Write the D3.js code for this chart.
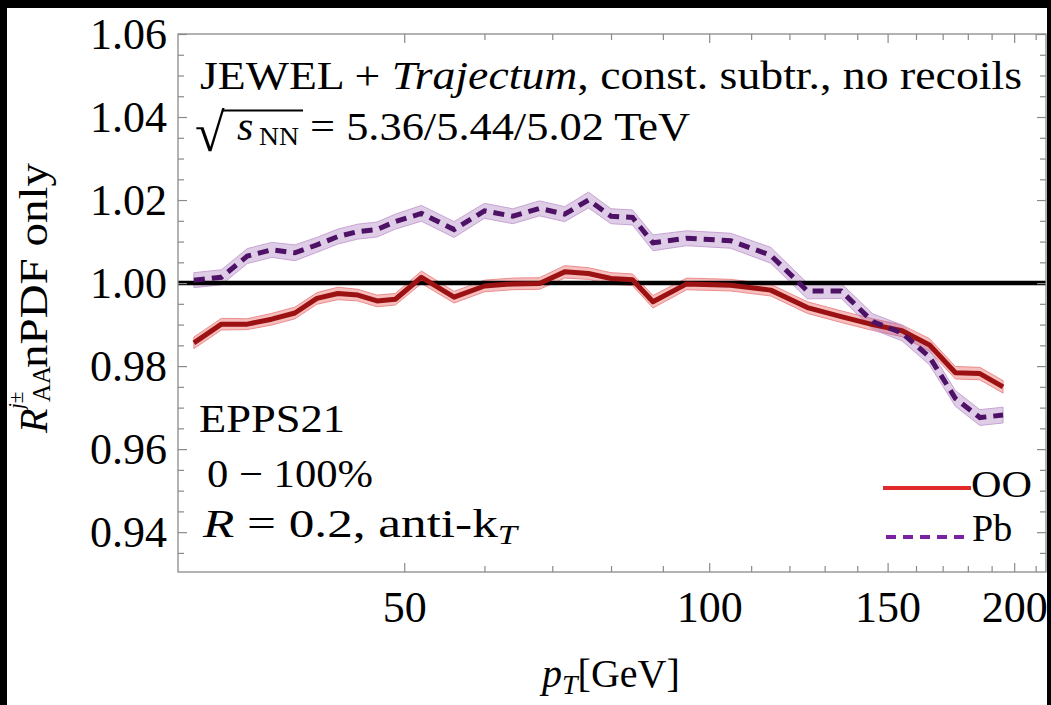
<!DOCTYPE html>
<html>
<head>
<meta charset="utf-8">
<script src="https://cdn.jsdelivr.net/npm/d3@7"></script>
<style>
  body { margin: 0; background: #000; }
  svg { display: block; }
  .tick text { font-family: "Liberation Serif", "Times New Roman", serif; font-size: 44px; fill: #000; }
  .tick line { stroke: #8a8a8a; stroke-width: 1.2; }
  .note { font-family: "Liberation Serif", "Times New Roman", serif; fill: #000; }
</style>
</head>
<body>
<div id="chart"></div>
<script>
/*
 *  DATA
 */
var pt_values = [31, 33, 35, 37, 39, 41, 43, 45, 47, 49,
                 52, 56, 60, 64, 68, 72, 76, 80, 84, 88,
                 95, 105, 115, 125, 135, 145, 155, 165, 175, 185, 195];

var oo_ratio = [0.9856, 0.9901, 0.9901, 0.9913, 0.9928, 0.9963, 0.9975, 0.9971, 0.9957, 0.9961,
                1.0014, 0.9966, 0.9993, 0.9998, 0.9999, 1.0027, 1.0023, 1.0011, 1.0008, 0.9955,
                0.9998, 0.9995, 0.9983, 0.9941, 0.9919, 0.9900, 0.9885, 0.9851, 0.9784, 0.9782, 0.9750];
var oo_err = [0.0014, 0.0014, 0.0013, 0.0014, 0.0014, 0.0014, 0.0015, 0.0014, 0.0014, 0.0014,
              0.0015, 0.0014, 0.0014, 0.0014, 0.0014, 0.0015, 0.0014, 0.0014, 0.0014, 0.0015,
              0.0014, 0.0014, 0.0014, 0.0014, 0.0014, 0.0014, 0.0014, 0.0015, 0.0015, 0.0015, 0.0015];

var pb_ratio = [1.0007, 1.0014, 1.0065, 1.0080, 1.0073, 1.0092, 1.0112, 1.0124, 1.0129, 1.0148,
                1.0168, 1.0129, 1.0174, 1.0161, 1.0180, 1.0166, 1.0200, 1.0161, 1.0158, 1.0097,
                1.0108, 1.0102, 1.0067, 0.9981, 0.9981, 0.9907, 0.9880, 0.9822, 0.9722, 0.9676, 0.9682];
var pb_err = [0.0018, 0.0018, 0.0018, 0.0018, 0.0019, 0.0018, 0.0018, 0.0018, 0.0018, 0.0018,
              0.0019, 0.0019, 0.0018, 0.0018, 0.0018, 0.0018, 0.0019, 0.0018, 0.0018, 0.0019,
              0.0018, 0.0018, 0.0019, 0.0019, 0.0018, 0.0019, 0.0019, 0.0019, 0.0019, 0.0019, 0.0019];

var x_major = [50, 100, 150, 200];
var x_minor = [60, 70, 80, 90, 110, 120, 130, 140, 160, 170, 180, 190, 210];
var y_major = [0.94, 0.96, 0.98, 1.00, 1.02, 1.04, 1.06];
var y_minor = [0.935, 0.945, 0.95, 0.955, 0.965, 0.97, 0.975, 0.985, 0.99, 0.995,
               1.005, 1.01, 1.015, 1.025, 1.03, 1.035, 1.045, 1.05, 1.055];
var ref_value = 1.00;

/*
 *  DECLARATION BLOCK
 */
var view_width = 1051;
var view_height = 705;
var margin = {top: 34, bottom: 133, left: 178, right: 5};
var width = view_width - margin.left - margin.right;
var height = view_height - margin.top - margin.bottom;

var root = d3.select('#chart')
    .append('svg')
        .attr('width', view_width)
        .attr('height', view_height);

// white page inside the black border of the picture
root.append('rect')
    .attr('x', 7).attr('y', 8)
    .attr('width', 1040).attr('height', 697)
    .attr('fill', '#fff');

var svg = root.append('g')
    .attr('transform', 'translate(' + margin.left + ',' + margin.top + ')');

var x_scale = d3.scaleLog()
    .domain([29.9, 215])
    .range([0, width]);
var y_scale = d3.scaleLinear()
    .domain([0.9304, 1.06])
    .range([height, 0]);

var rows = pt_values.map(function(p, i) {
    return {pt: p, oo: oo_ratio[i], ooe: oo_err[i], pb: pb_ratio[i], pbe: pb_err[i]};
});

/*
 *  BANDS, REFERENCE LINE, CURVES
 */
var ooBand = d3.area()
    .x(function(d) { return x_scale(d.pt); })
    .y0(function(d) { return y_scale(d.oo - d.ooe); })
    .y1(function(d) { return y_scale(d.oo + d.ooe); });
var pbBand = d3.area()
    .x(function(d) { return x_scale(d.pt); })
    .y0(function(d) { return y_scale(d.pb - d.pbe); })
    .y1(function(d) { return y_scale(d.pb + d.pbe); });
var ooLine = d3.line()
    .x(function(d) { return x_scale(d.pt); })
    .y(function(d) { return y_scale(d.oo); });
var pbLine = d3.line()
    .x(function(d) { return x_scale(d.pt); })
    .y(function(d) { return y_scale(d.pb); });

svg.append('path')
    .datum(rows)
    .attr('d', ooBand)
    .attr('fill', 'rgb(232,70,70)')
    .attr('fill-opacity', 0.35)
    .attr('stroke', '#ec8c8c')
    .attr('stroke-width', 1);

svg.append('path')
    .datum(rows)
    .attr('d', pbBand)
    .attr('fill', 'rgb(150,85,172)')
    .attr('fill-opacity', 0.3)
    .attr('stroke', '#c7a4d4')
    .attr('stroke-width', 1);

svg.append('line')
    .attr('x1', 0).attr('x2', width)
    .attr('y1', y_scale(ref_value)).attr('y2', y_scale(ref_value))
    .attr('stroke', '#000')
    .attr('stroke-width', 4.5);

svg.append('path')
    .datum(rows)
    .attr('d', ooLine)
    .attr('fill', 'none')
    .attr('stroke', '#9c1212')
    .attr('stroke-width', 5)
    .attr('stroke-linejoin', 'round');

svg.append('path')
    .datum(rows)
    .attr('d', pbLine)
    .attr('fill', 'none')
    .attr('stroke', '#4d1166')
    .attr('stroke-width', 5)
    .style('stroke-dasharray', '11, 7');

/*
 *  FRAME AND AXES (ticks point inwards)
 */
function clean(g) {
    g.select('.domain').remove();
    g.attr('font-family', null).attr('font-size', null);
}

svg.append('g')
    .attr('transform', 'translate(0,' + height + ')')
    .call(d3.axisBottom(x_scale).tickValues(x_major).tickSize(-9).tickPadding(19).tickFormat(d3.format('d')))
    .call(clean);
svg.append('g')
    .attr('transform', 'translate(0,' + height + ')')
    .call(d3.axisBottom(x_scale).tickValues(x_minor).tickSize(-6).tickFormat(''))
    .call(clean);
svg.append('g')
    .call(d3.axisTop(x_scale).tickValues(x_major).tickSize(-9).tickFormat(''))
    .call(clean);
svg.append('g')
    .call(d3.axisTop(x_scale).tickValues(x_minor).tickSize(-6).tickFormat(''))
    .call(clean);

svg.append('g')
    .call(d3.axisLeft(y_scale).tickValues(y_major).tickSize(-9).tickPadding(11).tickFormat(d3.format('.2f')))
    .call(clean);
svg.append('g')
    .call(d3.axisLeft(y_scale).tickValues(y_minor).tickSize(-6).tickFormat(''))
    .call(clean);
svg.append('g')
    .attr('transform', 'translate(' + width + ',0)')
    .call(d3.axisRight(y_scale).tickValues(y_major).tickSize(-9).tickFormat(''))
    .call(clean);
svg.append('g')
    .attr('transform', 'translate(' + width + ',0)')
    .call(d3.axisRight(y_scale).tickValues(y_minor).tickSize(-6).tickFormat(''))
    .call(clean);

svg.append('rect')
    .attr('width', width).attr('height', height)
    .attr('fill', 'none')
    .attr('stroke', '#8a8a8a')
    .attr('stroke-width', 1.3);

/*
 *  AXIS TITLES
 */
var xt = root.append('text')
    .attr('class', 'note')
    .attr('x', 542).attr('y', 687)
    .attr('font-size', 40);
xt.append('tspan').attr('font-style', 'italic').text('p');
xt.append('tspan').attr('font-style', 'italic').attr('font-size', 28).attr('dy', 7).text('T');
xt.append('tspan').attr('dy', -7).text('[GeV]');

var yt = root.append('g')
    .attr('transform', 'translate(47,433)rotate(-90)')
    .append('text')
    .attr('class', 'note')
    .attr('font-size', 40);
yt.append('tspan').attr('x', 0).attr('font-style', 'italic').text('R');
yt.append('tspan').attr('x', 24).attr('dy', -24).attr('font-size', 21).attr('font-style', 'italic').text('j');
yt.append('tspan').attr('font-size', 21).text('±');
yt.append('tspan').attr('x', 31).attr('dy', 27).attr('font-size', 25).text('AA');
yt.append('tspan').attr('x', 65).attr('dy', -3).attr('textLength', 205).attr('lengthAdjust', 'spacingAndGlyphs').text('nPDF only');

/*
 *  ANNOTATIONS
 */
var t1 = root.append('text')
    .attr('class', 'note')
    .attr('x', 200).attr('y', 89)
    .attr('font-size', 40)
    .attr('textLength', 822)
    .attr('lengthAdjust', 'spacingAndGlyphs');
t1.append('tspan').text('JEWEL + ');
t1.append('tspan').attr('font-style', 'italic').text('Trajectum');
t1.append('tspan').text(', const. subtr., no recoils');

root.append('text')
    .attr('class', 'note')
    .attr('x', 195).attr('y', 151)
    .attr('font-size', 54)
    .text('√');
root.append('line')
    .attr('x1', 222).attr('x2', 303)
    .attr('y1', 110.5).attr('y2', 110.5)
    .attr('stroke', '#000').attr('stroke-width', 2);
root.append('text')
    .attr('class', 'note')
    .attr('x', 237).attr('y', 140)
    .attr('font-size', 42)
    .attr('font-style', 'italic')
    .text('s');
root.append('text')
    .attr('class', 'note')
    .attr('x', 259).attr('y', 145)
    .attr('font-size', 26)
    .attr('textLength', 40)
    .attr('lengthAdjust', 'spacingAndGlyphs')
    .text('NN');
root.append('text')
    .attr('class', 'note')
    .attr('x', 310).attr('y', 140)
    .attr('font-size', 40)
    .attr('textLength', 380)
    .attr('lengthAdjust', 'spacingAndGlyphs')
    .text('= 5.36/5.44/5.02 TeV');

root.append('text')
    .attr('class', 'note')
    .attr('x', 199).attr('y', 432)
    .attr('font-size', 40)
    .attr('textLength', 146)
    .attr('lengthAdjust', 'spacingAndGlyphs')
    .text('EPPS21');
root.append('text')
    .attr('class', 'note')
    .attr('x', 207).attr('y', 487)
    .attr('font-size', 40)
    .attr('textLength', 166)
    .attr('lengthAdjust', 'spacingAndGlyphs')
    .text('0 \u2212 100%');

var t5 = root.append('text')
    .attr('class', 'note')
    .attr('x', 203).attr('y', 537)
    .attr('font-size', 40)
    .attr('textLength', 314)
    .attr('lengthAdjust', 'spacingAndGlyphs');
t5.append('tspan').attr('font-style', 'italic').text('R');
t5.append('tspan').text(' = 0.2, anti-k');
t5.append('tspan').attr('font-size', 27).attr('font-style', 'italic').attr('dy', 7).text('T');

/*
 *  LEGEND
 */
root.append('line')
    .attr('x1', 883).attr('x2', 971)
    .attr('y1', 488).attr('y2', 488)
    .attr('stroke', '#e02a2a').attr('stroke-width', 4);
root.append('text')
    .attr('class', 'note')
    .attr('x', 971).attr('y', 497)
    .attr('font-size', 38)
    .attr('textLength', 61)
    .attr('lengthAdjust', 'spacingAndGlyphs')
    .text('OO');
root.append('line')
    .attr('x1', 886).attr('x2', 965)
    .attr('y1', 537).attr('y2', 537)
    .attr('stroke', '#7a22a2').attr('stroke-width', 4)
    .style('stroke-dasharray', '10, 7');
root.append('text')
    .attr('class', 'note')
    .attr('x', 972).attr('y', 541)
    .attr('font-size', 38)
    .text('Pb');
</script>
</body>
</html>
